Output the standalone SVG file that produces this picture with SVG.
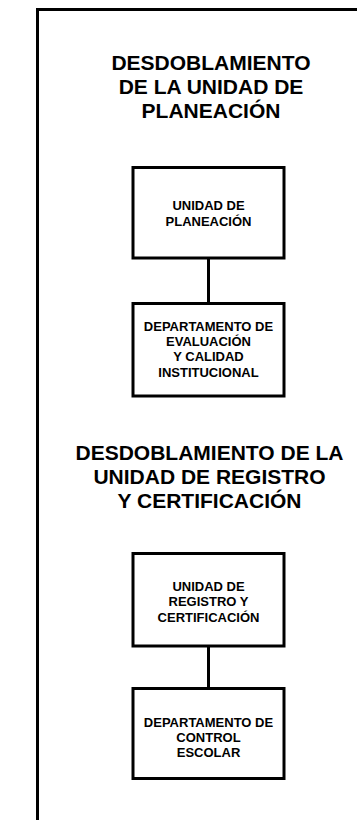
<svg xmlns="http://www.w3.org/2000/svg" width="357" height="820" viewBox="0 0 357 820">
<style>
.frame{fill:none;stroke:#000;stroke-width:3}
.box{fill:#fff;stroke:#000;stroke-width:3}
.conn{stroke:#000;stroke-width:3;fill:none}
.title{font-family:"Liberation Sans",Arial,sans-serif;font-weight:bold;font-size:21px;text-anchor:middle;fill:#000}
.lbl{font-family:"Liberation Sans",Arial,sans-serif;font-weight:bold;font-size:13px;text-anchor:middle;fill:#000}
</style>
<rect width="357" height="820" fill="#fff"/>
<path class="frame" d="M37.5,825 V9.5 H362"/>
<g id="title1">
<text class="title" x="211" y="70">DESDOBLAMIENTO</text>
<text class="title" x="211" y="94">DE LA UNIDAD DE</text>
<text class="title" x="211" y="118">PLANEACIÓN</text>
</g>
<g id="connectors">
<line class="conn" x1="208.5" y1="258" x2="208.5" y2="303"/>
<line class="conn" x1="208.5" y1="646" x2="208.5" y2="688"/>
</g>
<g id="n1">
<rect class="box" x="133" y="167.5" width="151" height="90.5"/>
<text class="lbl" x="208.5" y="210">UNIDAD DE</text>
<text class="lbl" x="208.5" y="225.5">PLANEACIÓN</text>
</g>
<g id="n2">
<rect class="box" x="133" y="303.5" width="151" height="92.5"/>
<text class="lbl" x="208.5" y="331">DEPARTAMENTO DE</text>
<text class="lbl" x="208.5" y="346">EVALUACIÓN</text>
<text class="lbl" x="208.5" y="361">Y CALIDAD</text>
<text class="lbl" x="208.5" y="377">INSTITUCIONAL</text>
</g>
<g id="title2">
<text class="title" x="209.5" y="460">DESDOBLAMIENTO DE LA</text>
<text class="title" x="209.5" y="484">UNIDAD DE REGISTRO</text>
<text class="title" x="209.5" y="508">Y CERTIFICACIÓN</text>
</g>
<g id="n3">
<rect class="box" x="133" y="553.5" width="151" height="92.5"/>
<text class="lbl" x="208.5" y="590.5">UNIDAD DE</text>
<text class="lbl" x="208.5" y="606">REGISTRO Y</text>
<text class="lbl" x="208.5" y="622">CERTIFICACIÓN</text>
</g>
<g id="n4">
<rect class="box" x="133" y="688.5" width="151" height="90"/>
<text class="lbl" x="208.5" y="727">DEPARTAMENTO DE</text>
<text class="lbl" x="208.5" y="742">CONTROL</text>
<text class="lbl" x="208.5" y="756.5">ESCOLAR</text>
</g>
</svg>
